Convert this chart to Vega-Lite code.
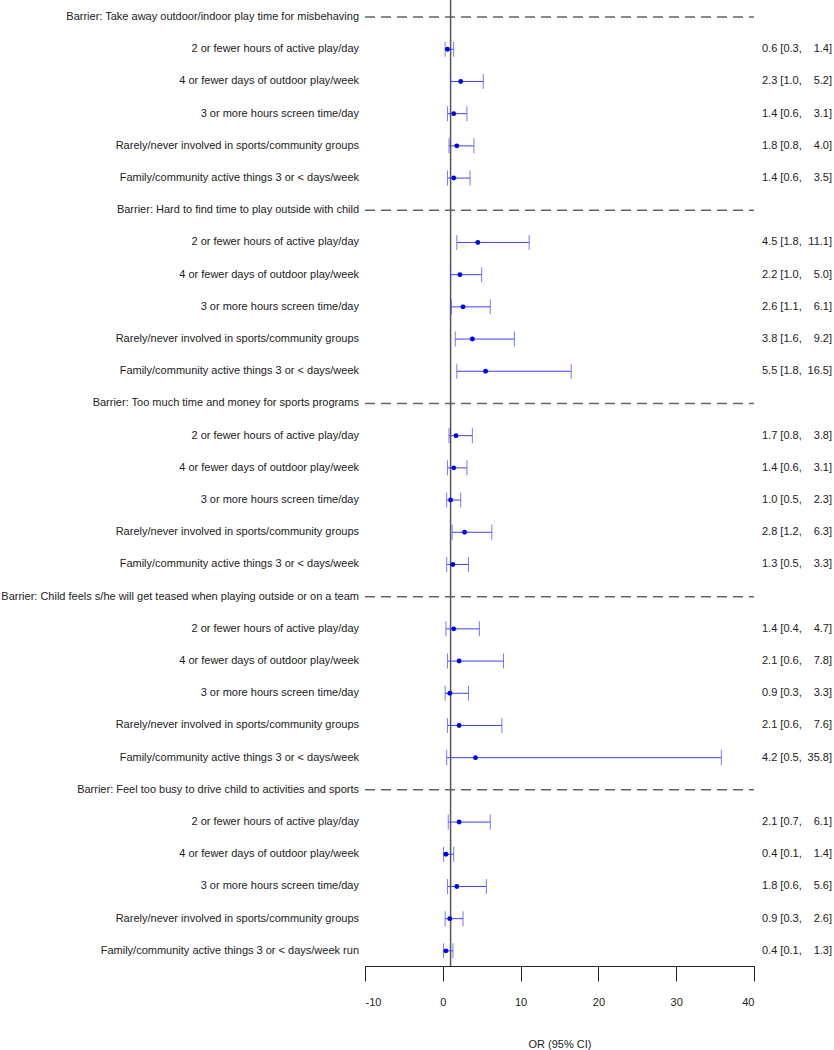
{
  "$schema": "https://vega.github.io/schema/vega-lite/v6.json",
  "autosize": {"type": "none"},
  "padding": {"left": 365, "top": 0, "right": 80, "bottom": 84},
  "width": 389,
  "height": 966,
  "background": "white",
  "config": {
    "view": {"stroke": null},
    "font": "Liberation Sans",
    "text": {"font": "Liberation Sans", "fontSize": 11, "color": "#222222"}
  },
  "data": {
    "values": [
      {"i": 0, "kind": "header", "label": "Barrier: Take away outdoor/indoor play time for misbehaving"},
      {"i": 1, "kind": "row", "label": "2 or fewer hours of active play/day", "or": 0.6, "lo": 0.3, "hi": 1.4, "t1": "0.6  [0.3,", "t2": "1.4]"},
      {"i": 2, "kind": "row", "label": "4 or fewer days of outdoor play/week", "or": 2.3, "lo": 1.0, "hi": 5.2, "t1": "2.3  [1.0,", "t2": "5.2]"},
      {"i": 3, "kind": "row", "label": "3 or more hours screen time/day", "or": 1.4, "lo": 0.6, "hi": 3.1, "t1": "1.4  [0.6,", "t2": "3.1]"},
      {"i": 4, "kind": "row", "label": "Rarely/never involved in sports/community groups", "or": 1.8, "lo": 0.8, "hi": 4.0, "t1": "1.8  [0.8,", "t2": "4.0]"},
      {"i": 5, "kind": "row", "label": "Family/community active things 3 or < days/week", "or": 1.4, "lo": 0.6, "hi": 3.5, "t1": "1.4  [0.6,", "t2": "3.5]"},
      {"i": 6, "kind": "header", "label": "Barrier: Hard to find time to play outside with child"},
      {"i": 7, "kind": "row", "label": "2 or fewer hours of active play/day", "or": 4.5, "lo": 1.8, "hi": 11.1, "t1": "4.5  [1.8,", "t2": "11.1]"},
      {"i": 8, "kind": "row", "label": "4 or fewer days of outdoor play/week", "or": 2.2, "lo": 1.0, "hi": 5.0, "t1": "2.2  [1.0,", "t2": "5.0]"},
      {"i": 9, "kind": "row", "label": "3 or more hours screen time/day", "or": 2.6, "lo": 1.1, "hi": 6.1, "t1": "2.6  [1.1,", "t2": "6.1]"},
      {"i": 10, "kind": "row", "label": "Rarely/never involved in sports/community groups", "or": 3.8, "lo": 1.6, "hi": 9.2, "t1": "3.8  [1.6,", "t2": "9.2]"},
      {"i": 11, "kind": "row", "label": "Family/community active things 3 or < days/week", "or": 5.5, "lo": 1.8, "hi": 16.5, "t1": "5.5  [1.8,", "t2": "16.5]"},
      {"i": 12, "kind": "header", "label": "Barrier: Too much time and money for sports programs"},
      {"i": 13, "kind": "row", "label": "2 or fewer hours of active play/day", "or": 1.7, "lo": 0.8, "hi": 3.8, "t1": "1.7  [0.8,", "t2": "3.8]"},
      {"i": 14, "kind": "row", "label": "4 or fewer days of outdoor play/week", "or": 1.4, "lo": 0.6, "hi": 3.1, "t1": "1.4  [0.6,", "t2": "3.1]"},
      {"i": 15, "kind": "row", "label": "3 or more hours screen time/day", "or": 1.0, "lo": 0.5, "hi": 2.3, "t1": "1.0  [0.5,", "t2": "2.3]"},
      {"i": 16, "kind": "row", "label": "Rarely/never involved in sports/community groups", "or": 2.8, "lo": 1.2, "hi": 6.3, "t1": "2.8  [1.2,", "t2": "6.3]"},
      {"i": 17, "kind": "row", "label": "Family/community active things 3 or < days/week", "or": 1.3, "lo": 0.5, "hi": 3.3, "t1": "1.3  [0.5,", "t2": "3.3]"},
      {"i": 18, "kind": "header", "label": "Barrier: Child feels s/he will get teased when playing outside or on a team"},
      {"i": 19, "kind": "row", "label": "2 or fewer hours of active play/day", "or": 1.4, "lo": 0.4, "hi": 4.7, "t1": "1.4  [0.4,", "t2": "4.7]"},
      {"i": 20, "kind": "row", "label": "4 or fewer days of outdoor play/week", "or": 2.1, "lo": 0.6, "hi": 7.8, "t1": "2.1  [0.6,", "t2": "7.8]"},
      {"i": 21, "kind": "row", "label": "3 or more hours screen time/day", "or": 0.9, "lo": 0.3, "hi": 3.3, "t1": "0.9  [0.3,", "t2": "3.3]"},
      {"i": 22, "kind": "row", "label": "Rarely/never involved in sports/community groups", "or": 2.1, "lo": 0.6, "hi": 7.6, "t1": "2.1  [0.6,", "t2": "7.6]"},
      {"i": 23, "kind": "row", "label": "Family/community active things 3 or < days/week", "or": 4.2, "lo": 0.5, "hi": 35.8, "t1": "4.2  [0.5,", "t2": "35.8]"},
      {"i": 24, "kind": "header", "label": "Barrier: Feel too busy to drive child to activities and sports"},
      {"i": 25, "kind": "row", "label": "2 or fewer hours of active play/day", "or": 2.1, "lo": 0.7, "hi": 6.1, "t1": "2.1  [0.7,", "t2": "6.1]"},
      {"i": 26, "kind": "row", "label": "4 or fewer days of outdoor play/week", "or": 0.4, "lo": 0.1, "hi": 1.4, "t1": "0.4  [0.1,", "t2": "1.4]"},
      {"i": 27, "kind": "row", "label": "3 or more hours screen time/day", "or": 1.8, "lo": 0.6, "hi": 5.6, "t1": "1.8  [0.6,", "t2": "5.6]"},
      {"i": 28, "kind": "row", "label": "Rarely/never involved in sports/community groups", "or": 0.9, "lo": 0.3, "hi": 2.6, "t1": "0.9  [0.3,", "t2": "2.6]"},
      {"i": 29, "kind": "row", "label": "Family/community active things 3 or < days/week run", "or": 0.4, "lo": 0.1, "hi": 1.3, "t1": "0.4  [0.1,", "t2": "1.3]"}
    ]
  },
  "encoding": {
    "y": {"field": "i", "type": "quantitative", "scale": {"domain": [-0.53, 29.47], "reverse": true, "nice": false, "zero": false}, "axis": null}
  },
  "layer": [
    {
      "transform": [{"filter": "datum.kind == 'header'"}],
      "mark": {"type": "rule", "color": "#666666", "strokeWidth": 1.5, "strokeDash": [10, 6]},
      "encoding": {
        "x": {
          "datum": -10, "type": "quantitative",
          "scale": {"domain": [-10, 40], "nice": false, "zero": false},
          "title": "OR (95% CI)",
          "axis": {
            "values": [-10, 0, 10, 20, 30, 40],
            "labelExpr": "'' + datum.value",
            "domainColor": "#222222",
            "domainWidth": 1,
            "tickColor": "#222222",
            "tickSize": 15,
            "tickWidth": 1,
            "labelFont": "Liberation Sans",
            "labelFontSize": 11,
            "labelColor": "#222222",
            "labelPadding": 15,
            "titleFont": "Liberation Sans",
            "titleFontSize": 11,
            "titleFontWeight": "normal",
            "titleColor": "#222222",
            "titlePadding": 31,
            "grid": false
          }
        },
        "x2": {"datum": 40}
      }
    },
    {
      "data": {"values": [{}]},
      "mark": {"type": "rule", "color": "#555555", "strokeWidth": 1.5},
      "encoding": {
        "x": {"datum": 1, "type": "quantitative", "title": "OR (95% CI)"},
        "y": null
      }
    },
    {
      "transform": [{"filter": "datum.kind == 'row'"}],
      "mark": {"type": "rule", "color": "#4040ff", "strokeWidth": 1},
      "encoding": {
        "x": {"field": "lo", "type": "quantitative", "title": "OR (95% CI)"},
        "x2": {"field": "hi"}
      }
    },
    {
      "transform": [{"filter": "datum.kind == 'row'"}],
      "mark": {"type": "tick", "orient": "vertical", "color": "#4040ff", "size": 15, "thickness": 1},
      "encoding": {
        "x": {"field": "lo", "type": "quantitative", "title": "OR (95% CI)"}
      }
    },
    {
      "transform": [{"filter": "datum.kind == 'row'"}],
      "mark": {"type": "tick", "orient": "vertical", "color": "#4040ff", "size": 15, "thickness": 1},
      "encoding": {
        "x": {"field": "hi", "type": "quantitative", "title": "OR (95% CI)"}
      }
    },
    {
      "transform": [{"filter": "datum.kind == 'row'"}],
      "mark": {"type": "circle", "color": "#0000ee", "size": 24, "opacity": 1},
      "encoding": {
        "x": {"field": "or", "type": "quantitative", "title": "OR (95% CI)"}
      }
    },
    {
      "mark": {"type": "text", "align": "right", "baseline": "middle", "dx": -6},
      "encoding": {
        "x": {"datum": -10, "type": "quantitative", "title": "OR (95% CI)"},
        "text": {"field": "label"}
      }
    },
    {
      "transform": [{"filter": "datum.kind == 'row'"}],
      "mark": {"type": "text", "align": "left", "baseline": "middle", "dx": 8},
      "encoding": {
        "x": {"datum": 40, "type": "quantitative", "title": "OR (95% CI)"},
        "text": {"field": "t1"}
      }
    },
    {
      "transform": [{"filter": "datum.kind == 'row'"}],
      "mark": {"type": "text", "align": "right", "baseline": "middle", "dx": 78},
      "encoding": {
        "x": {"datum": 40, "type": "quantitative", "title": "OR (95% CI)"},
        "text": {"field": "t2"}
      }
    }
  ]
}
